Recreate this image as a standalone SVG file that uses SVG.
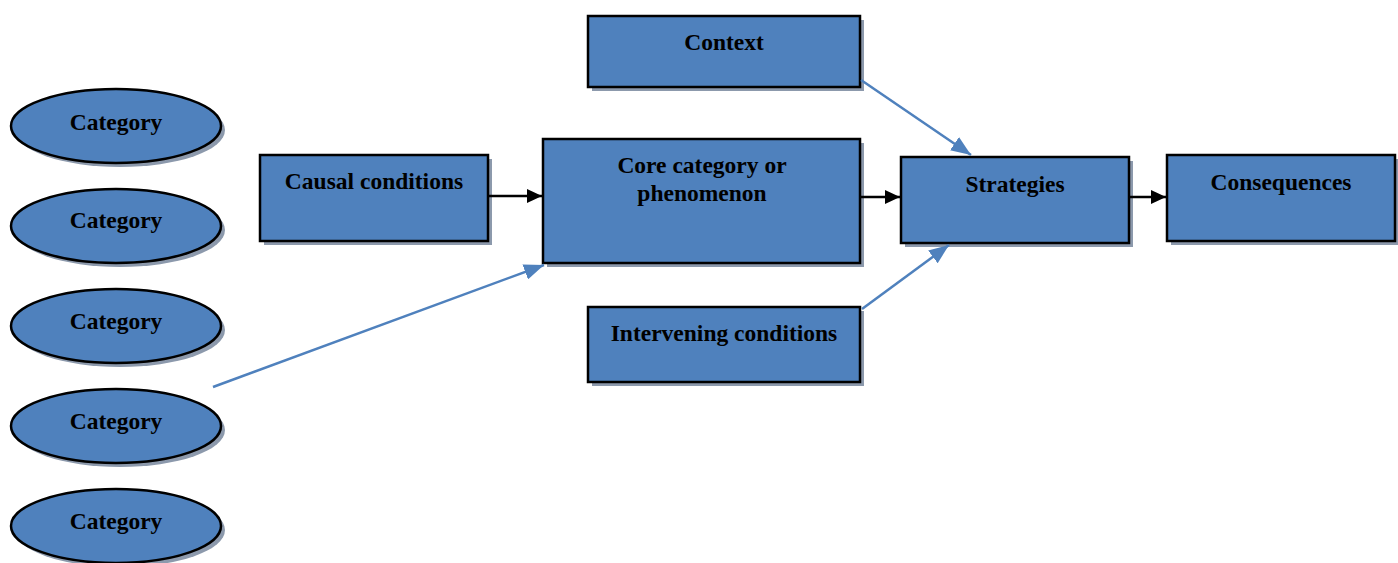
<svg xmlns="http://www.w3.org/2000/svg" width="1398" height="563" viewBox="0 0 1398 563">
<style>
.n{fill:#4F81BD;stroke:#000;stroke-width:2.5}
.s{fill:#8C99AC}
.t{font-family:"Liberation Serif",serif;font-weight:bold;font-size:23.5px;fill:#000;text-anchor:middle}
.k{stroke:#000;stroke-width:2.5;fill:none}
.b{stroke:#4F81BD;stroke-width:2.5;fill:none}
</style>
<defs>
<marker id="ak" markerWidth="15" markerHeight="14" refX="15" refY="7" orient="auto" markerUnits="userSpaceOnUse" viewBox="0 0 15 14"><path d="M0,0 L15,7 L0,14 z" fill="#000"/></marker>
<marker id="ab" markerWidth="20" markerHeight="16" refX="20" refY="8" orient="auto" markerUnits="userSpaceOnUse" viewBox="0 0 20 16"><path d="M0,0 L20,8 L0,16 z" fill="#4F81BD"/></marker>
</defs>
<rect width="1398" height="563" fill="#fff"/>
<g id="cat1"><ellipse class="s" cx="120" cy="130" rx="105" ry="37"/><ellipse class="n" cx="116" cy="126" rx="105" ry="37"/><text class="t" x="116" y="130">Category</text></g>
<g id="cat2"><ellipse class="s" cx="120" cy="230" rx="105" ry="37"/><ellipse class="n" cx="116" cy="226" rx="105" ry="37"/><text class="t" x="116" y="228">Category</text></g>
<g id="cat3"><ellipse class="s" cx="120" cy="330" rx="105" ry="37"/><ellipse class="n" cx="116" cy="326" rx="105" ry="37"/><text class="t" x="116" y="329">Category</text></g>
<g id="cat4"><ellipse class="s" cx="120" cy="430" rx="105" ry="37"/><ellipse class="n" cx="116" cy="426" rx="105" ry="37"/><text class="t" x="116" y="429">Category</text></g>
<g id="cat5"><ellipse class="s" cx="120" cy="530" rx="105" ry="37"/><ellipse class="n" cx="116" cy="526" rx="105" ry="37"/><text class="t" x="116" y="529">Category</text></g>
<g id="causal"><rect class="s" x="264" y="159" width="228" height="86"/><rect class="n" x="260" y="155" width="228" height="86"/><text class="t" x="374" y="189">Causal conditions</text></g>
<g id="core"><rect class="s" x="547" y="143" width="317" height="124"/><rect class="n" x="543" y="139" width="317" height="124"/><text class="t" x="702" y="173">Core category or</text><text class="t" x="702" y="201">phenomenon</text></g>
<g id="context"><rect class="s" x="592" y="20" width="272" height="71"/><rect class="n" x="588" y="16" width="272" height="71"/><text class="t" x="724" y="50">Context</text></g>
<g id="intervening"><rect class="s" x="592" y="311" width="272" height="75"/><rect class="n" x="588" y="307" width="272" height="75"/><text class="t" x="724" y="341">Intervening conditions</text></g>
<g id="strategies"><rect class="s" x="905" y="161" width="228" height="86"/><rect class="n" x="901" y="157" width="228" height="86"/><text class="t" x="1015" y="192">Strategies</text></g>
<g id="consequences"><rect class="s" x="1171" y="159" width="228" height="86"/><rect class="n" x="1167" y="155" width="228" height="86"/><text class="t" x="1281" y="190">Consequences</text></g>
<g id="connectors">
<line class="k" x1="489" y1="196" x2="542" y2="196" marker-end="url(#ak)"/>
<line class="k" x1="861" y1="197" x2="900" y2="197" marker-end="url(#ak)"/>
<line class="k" x1="1130" y1="197" x2="1166" y2="197" marker-end="url(#ak)"/>
<line class="b" x1="861" y1="80" x2="971" y2="155" marker-end="url(#ab)"/>
<line class="b" x1="862" y1="309" x2="949" y2="245" marker-end="url(#ab)"/>
<line class="b" x1="213" y1="387" x2="544" y2="265" marker-end="url(#ab)"/>
</g>
</svg>
